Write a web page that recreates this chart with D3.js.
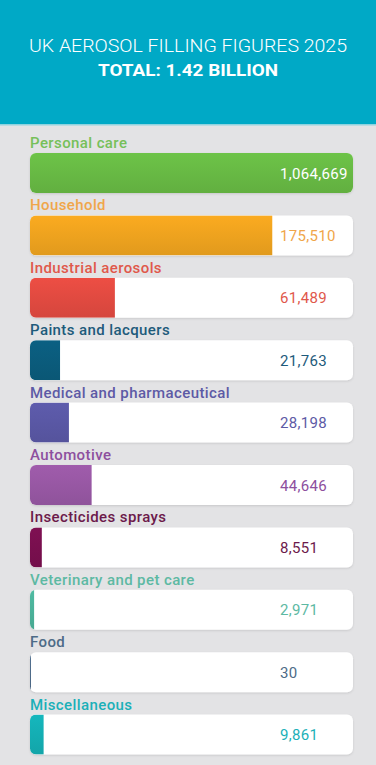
<!DOCTYPE html>
<html>
<head>
<meta charset="utf-8">
<script src="https://cdn.jsdelivr.net/npm/d3@7"></script>
<style>
html,body{margin:0;padding:0;background:#e3e3e5;}
svg{display:block;}
</style>
</head>
<body>
<svg id="chart" width="376" height="765"></svg>
<script>
const categories = ["Personal care","Household","Industrial aerosols","Paints and lacquers","Medical and pharmaceutical","Automotive","Insecticides sprays","Veterinary and pet care","Food","Miscellaneous"];
const values = [1064669,175510,61489,21763,28198,44646,8551,2971,30,9861];
const barColors = ["#69bc45","#f2a51f","#e54b42","#0b5d7e","#5b59a7","#9a59a6","#7b0f50","#4cb49c","#4f6d8c","#14b1b6"];
const labelColors = ["#76c05a","#f0a64a","#e0584b","#1e5b7b","#5d5aa5","#8d4f9e","#6c1a4b","#5db9a3","#4d6b87","#1bb0b8"];
const titleText = "UK AEROSOL FILLING FIGURES 2025";
const totalText = "TOTAL: 1.42 BILLION";
const scaleMax = 234000;

const svg = d3.select("#chart");
const W = 376, H = 765;
const defs = svg.append("defs");

const f = defs.append("filter").attr("id","sh").attr("x","-5%").attr("y","-20%").attr("width","110%").attr("height","150%");
f.append("feDropShadow").attr("dx",0).attr("dy",1).attr("stdDeviation",1.2).attr("flood-color","#000").attr("flood-opacity",0.12);

// header
svg.append("rect").attr("x",0).attr("y",0).attr("width",W).attr("height",124).attr("fill","#00a9c6");
svg.append("rect").attr("x",0).attr("y",124).attr("width",W).attr("height",1.5).attr("fill","#8fd3df");
svg.append("text").attr("x",W/2).attr("y",52).attr("text-anchor","middle")
  .attr("font-family","Roboto").attr("font-weight",300).attr("font-size",17.5).attr("fill","#fff")
  .attr("textLength",318).attr("lengthAdjust","spacingAndGlyphs").text(titleText);
svg.append("text").attr("x",W/2).attr("y",76).attr("text-anchor","middle")
  .attr("font-family","Roboto").attr("font-weight",700).attr("font-size",16).attr("fill","#fff")
  .attr("textLength",180).attr("lengthAdjust","spacingAndGlyphs").text(totalText);

const x0 = 30, x1 = 353;
const x = d3.scaleLinear().domain([0, scaleMax]).range([0, x1 - x0]).clamp(true);
const y = d3.scaleBand().domain(categories).range([153, 153 + 62.4*10]).paddingInner(0);
const barH = 40, r = 6;

const g = svg.selectAll("g.row").data(categories).join("g").attr("class","row")
  .attr("transform", d => `translate(0,${y(d)})`);

g.append("text").attr("x", x0).attr("y", -5)
  .attr("font-family","Roboto").attr("font-weight",500).attr("font-size",15)
  .attr("letter-spacing",0.4)
  .attr("fill",(d,i)=>labelColors[i]).text(d=>d);

g.each(function(d,i){
  const gg = d3.select(this);
  const cp = defs.append("clipPath").attr("id","c"+i);
  cp.append("rect").attr("x",x0).attr("y",0).attr("width",x1-x0).attr("height",barH).attr("rx",r);
  gg.append("rect").attr("x",x0).attr("y",0).attr("width",x1-x0).attr("height",barH).attr("rx",r)
    .attr("fill","#fff").attr("filter","url(#sh)");
  const gr = defs.append("linearGradient").attr("id","gr"+i).attr("x1",0).attr("y1",0).attr("x2",0).attr("y2",1);
  const c = d3.color(barColors[i]);
  gr.append("stop").attr("offset","0%").attr("stop-color",c.brighter(0.1));
  gr.append("stop").attr("offset","100%").attr("stop-color",c.darker(0.2));
  gg.append("rect").attr("clip-path","url(#c"+i+")")
    .attr("x",x0).attr("y",0).attr("width",Math.max(x(values[i]),1)).attr("height",barH)
    .attr("fill","url(#gr"+i+")");
  gg.append("text").attr("x",280).attr("y",barH/2+5.5)
    .attr("font-family","Roboto").attr("font-weight",400).attr("font-size",15)
    .attr("letter-spacing",0.3)
    .attr("fill", x(values[i]) >= 280 - x0 ? "#fff" : labelColors[i])
    .text(d3.format(",")(values[i]));
});
</script>
</body>
</html>
